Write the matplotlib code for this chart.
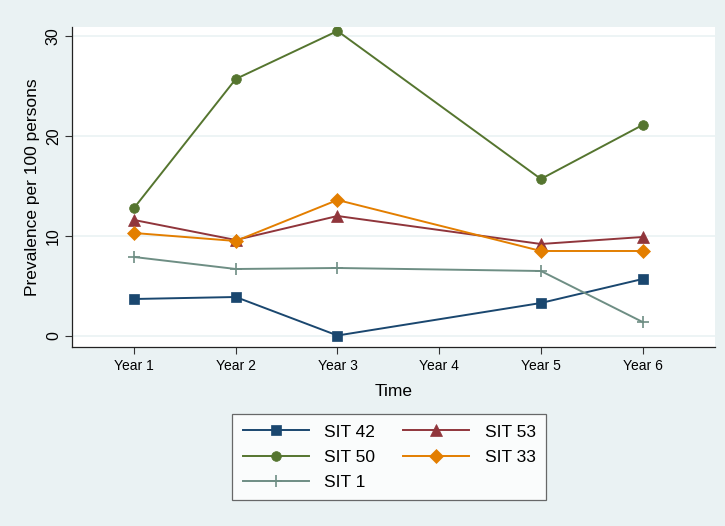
import matplotlib
matplotlib.use("Agg")
import matplotlib.pyplot as plt

plt.rcParams["font.family"] = ["Liberation Sans", "DejaVu Sans"]

YEARS = [1, 2, 3, 5, 6]
TICK_POS = [1, 2, 3, 4, 5, 6]
TICK_LABELS = ["Year 1", "Year 2", "Year 3", "Year 4", "Year 5", "Year 6"]

SIT42 = [3.7, 3.9, 0.05, 3.3, 5.7]
SIT50 = [12.8, 25.7, 30.5, 15.7, 21.1]
SIT53 = [11.6, 9.6, 12.0, 9.2, 9.9]
SIT33 = [10.3, 9.5, 13.6, 8.5, 8.5]
SIT1 = [7.9, 6.7, 6.8, 6.5, 1.4]

BG = "#eaf2f3"

fig = plt.figure(figsize=(7.25, 5.26), dpi=100, facecolor=BG)
ax = fig.add_axes([0.0993, 0.3403, 0.8867, 0.6084])
ax.set_facecolor("white")

series = [
    ("SIT 42", SIT42, "#1a476f", "s", 7),
    ("SIT 53", SIT53, "#90353b", "^", 8),
    ("SIT 50", SIT50, "#55752f", "o", 7),
    ("SIT 33", SIT33, "#e37e00", "D", 7),
    ("SIT 1", SIT1, "#6e8e84", "+", 9),
]
handles = {}
for name, vals, col, mk, ms in series:
    h, = ax.plot(YEARS, vals, color=col, marker=mk, ms=ms, lw=1.4,
                 markeredgewidth=1.2 if mk == "+" else 0.5, label=name)
    handles[name] = h

ax.set_xlim(0.39, 6.71)
ax.set_ylim(-1.1, 30.9)
ax.set_yticks([0, 10, 20, 30])
ax.set_yticklabels(["0", "10", "20", "30"], rotation=90, va="center", fontsize=11.5)
ax.set_xticks(TICK_POS)
ax.set_xticklabels(TICK_LABELS, fontsize=10)
ax.tick_params(axis="both", length=5, color="#333333", width=0.8)
ax.tick_params(axis="y", pad=3)
ax.grid(axis="y", color=BG, lw=1.2)
ax.set_axisbelow(True)
for s in ("top", "right"):
    ax.spines[s].set_visible(False)
for s in ("left", "bottom"):
    ax.spines[s].set_color("#222222")
    ax.spines[s].set_linewidth(0.9)

ax.set_ylabel("Prevalence per 100 persons", fontsize=12.5, labelpad=4)
ax.set_xlabel("Time", fontsize=12.5, labelpad=8)

# column-major order for ncol=2 so rows read: 42/53, 50/33, 1
hs = [handles["SIT 42"], handles["SIT 50"], handles["SIT 1"], handles["SIT 53"], handles["SIT 33"]]
labs = [h.get_label() for h in hs]
leg = fig.legend(hs, labs, ncol=2, loc="upper center", bbox_to_anchor=(0.537, 0.213),
                 borderaxespad=0, fontsize=12.5, frameon=True, fancybox=False,
                 edgecolor="#444444", handlelength=3.8, columnspacing=1.6,
                 borderpad=0.6, labelspacing=0.58, handletextpad=0.9)
leg.get_frame().set_linewidth(0.9)

fig.savefig("out.png", dpi=100, facecolor=BG)
